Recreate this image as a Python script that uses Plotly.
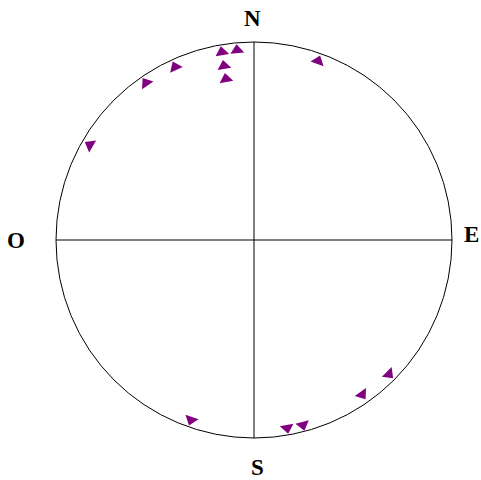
import numpy as np
import plotly.graph_objects as go

# Lineations: trend (azimuth, degrees clockwise from N) and plunge (degrees)
trend = [325.5, 335.5, 350.3, 350.2, 350.1, 354.9, 19.7, 300.1,
         145.0, 134.8, 199.3, 170.0, 165.2]
plunge = [4.2, 4.5, 4.2, 11.8, 18.6, 4.2, 4.5, 4.8,
          5.4, 4.5, 4.2, 4.1, 3.8]

# Cardinal labels (O = Oeste)
cardinal_text = ["N", "E", "S", "O"]

# Equal-area (Schmidt) projection, lower hemisphere, unit primitive circle
pl = np.radians(plunge)
tr = np.radians(trend)
r_proj = np.sqrt(2) * np.sin((np.pi / 2 - pl) / 2)
x = r_proj * np.sin(tr)
y = r_proj * np.cos(tr)

W, H = 481, 480
cx, cy, R = 254, 240, 198  # circle centre and radius in pixels

fig = go.Figure()
fig.add_trace(go.Scatter(
    x=x, y=y,
    mode="markers",
    marker=dict(symbol="triangle-up", size=12, color="#800080",
                angle=trend, line=dict(width=0)),
    showlegend=False,
    hoverinfo="skip",
))

# Primitive circle and N-S / E-W cross
fig.add_shape(type="circle", x0=-1, y0=-1, x1=1, y1=1,
              line=dict(color="black", width=1), layer="below")
fig.add_shape(type="line", x0=0, y0=-1, x1=0, y1=1,
              line=dict(color="black", width=1), layer="below")
fig.add_shape(type="line", x0=-1, y0=0, x1=1, y1=0,
              line=dict(color="black", width=1), layer="below")

fig.update_layout(
    width=W, height=H,
    margin=dict(l=0, r=0, t=0, b=0),
    paper_bgcolor="white",
    plot_bgcolor="white",
    xaxis=dict(range=[-cx / R, (W - cx) / R], visible=False),
    yaxis=dict(range=[-(H - cy) / R, cy / R], visible=False),
)

# Cardinal labels positioned around the primitive circle (pixel -> paper)
label_px = [(252, 19), (481, 234), (257, 467), (16, 240)]
anchors = ["center", "right", "center", "center"]
for txt, (px, py), xa in zip(cardinal_text, label_px, anchors):
    fig.add_annotation(
        x=px / W, y=1 - py / H, xref="paper", yref="paper",
        text=f"<b>{txt}</b>", showarrow=False, xanchor=xa, yanchor="middle",
        font=dict(family="Liberation Serif", size=23, color="black"),
    )

fig.write_html("out.html")
